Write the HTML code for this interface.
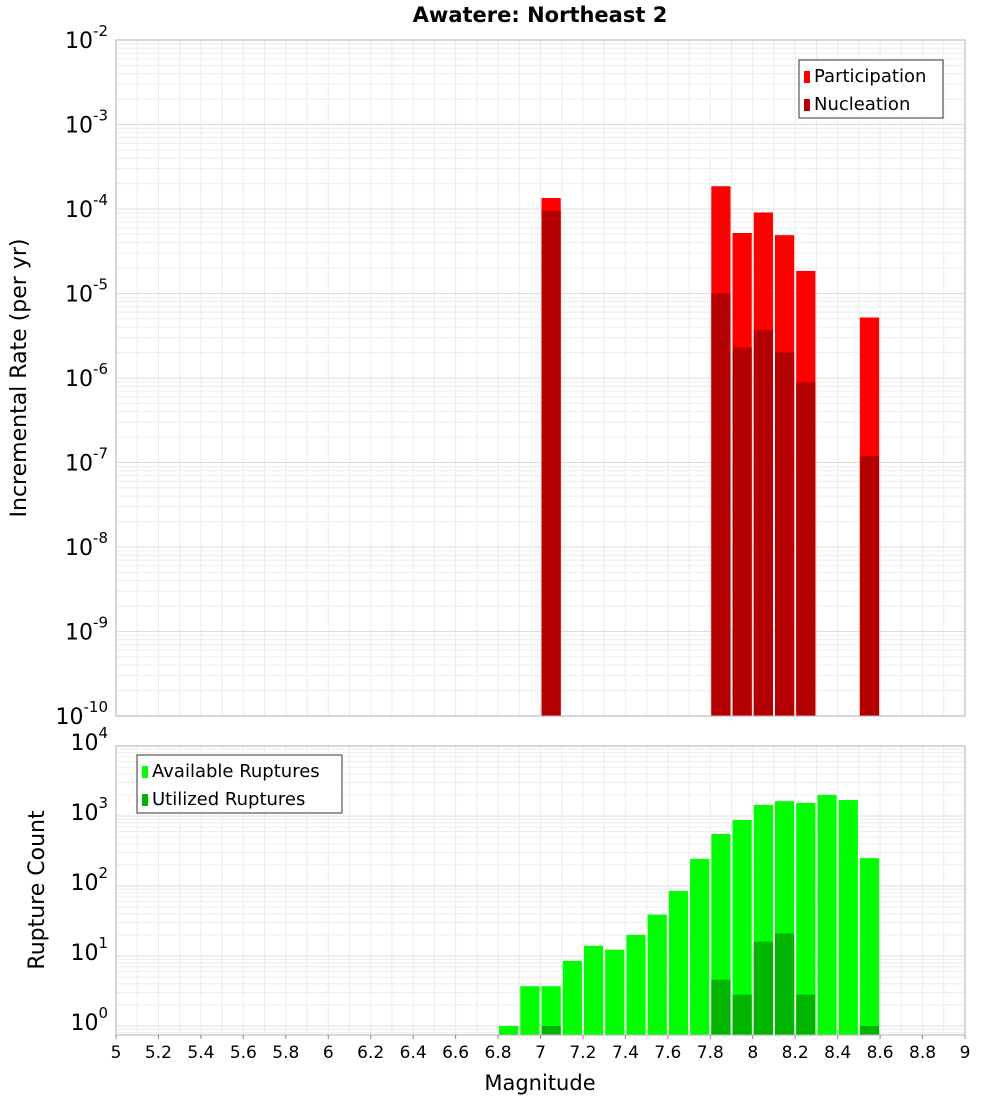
<!DOCTYPE html>
<html><head><meta charset="utf-8"><style>
body{margin:0;background:#fff;font-family:"Liberation Sans","DejaVu Sans",sans-serif}
svg text{font-family:"DejaVu Sans","Liberation Sans",sans-serif}
</style></head><body>
<svg id="c" width="1000" height="1100" xmlns="http://www.w3.org/2000/svg"></svg>
<script>
const partMags=[7.05,7.85,7.95,8.05,8.15,8.25,8.55];
const partVals=[1.35e-4,1.86e-4,5.2e-5,9.1e-5,4.9e-5,1.85e-5,5.2e-6];
const nucVals=[9.5e-5,1.0e-5,2.3e-6,3.7e-6,2.0e-6,8.9e-7,1.2e-7];
const availMags=[6.85,6.95,7.05,7.15,7.25,7.35,7.45,7.55,7.65,7.75,7.85,7.95,8.05,8.15,8.25,8.35,8.45,8.55];
const availVals=[1,3.7,3.7,8.5,14,12.3,20,39,85,244,554,875,1440,1630,1540,2000,1690,250];
const usedMags=[7.05,7.85,7.95,8.05,8.15,8.25,8.55];
const usedVals=[1,4.6,2.8,16,21,2.8,1];
const xTicks=[5,5.2,5.4,5.6,5.8,6,6.2,6.4,6.6,6.8,7,7.2,7.4,7.6,7.8,8,8.2,8.4,8.6,8.8,9];
const topExp=[-10,-9,-8,-7,-6,-5,-4,-3,-2];
const botExp=[0,1,2,3,4];

const S=document.getElementById('c'),NS='http://www.w3.org/2000/svg';
function el(t,a,p){const e=document.createElementNS(NS,t);for(const k in a)e.setAttribute(k,a[k]);(p||S).appendChild(e);return e;}
const X0=116,X1=965;
const x=m=>X0+(m-5)/4*(X1-X0);
const T0=40,T1=716,yT=v=>T0+(-2-Math.log10(v))*(T1-T0)/8;
const B0=746,B1=1035,yB=v=>B0+(4-Math.log10(v))*70;

function grid(top,bot,yf,emin,emax,name){
  const g=el('g',{});
  for(let m=5;m<=9.001;m+=0.1){el('line',{x1:x(m),x2:x(m),y1:top,y2:bot,stroke:'#ebebeb','stroke-width':1},g);}
  for(let e=emin-1;e<=emax;e++)for(let k=1;k<10;k++){const y=yf(k*Math.pow(10,e));if(y<top||y>bot)continue;
    el('line',{x1:X0,x2:X1,y1:y,y2:y,stroke:k==1?'#dcdcdc':'#ececec','stroke-width':1},g);}
}
grid(T0,T1,yT,-10,-2,'top-grid');
grid(B0,B1,yB,0,4,'bottom-grid');

function bars(mags,vals,yf,base,color,name){
  mags.forEach((m,i)=>{const y=yf(vals[i]);const r=el('rect',{x:x(m-0.05)+1,y:y,width:x(m+0.05)-x(m-0.05)-2,height:base-y,fill:color});
    });
}
bars(partMags,partVals,yT,T1,'#ff0000','participation-bar');
bars(partMags,nucVals,yT,T1,'#b40000','nucleation-bar');
bars(availMags,availVals,yB,B1,'#00ff00','available-bar');
bars(usedMags,usedVals,yB,B1,'#00b400','utilized-bar');

el('rect',{x:X0,y:T0,width:X1-X0,height:T1-T0,fill:'none',stroke:'#b0b0b0'});
el('rect',{x:X0,y:B0,width:X1-X0,height:B1-B0,fill:'none',stroke:'#b0b0b0'});

function txt(s,a,name){const t=el('text',a);t.textContent=s;return t;}
function pow(e,y,name){const t=el('text',{x:108,y:y+8,'text-anchor':'end','font-size':22});
  
  const a=el('tspan',{},t);a.textContent='10';const b=el('tspan',{dy:-12,'font-size':15},t);b.textContent=String(e);}
topExp.forEach(e=>pow(e,yT(Math.pow(10,e)),'top-y-tick'));
botExp.forEach(e=>pow(e,yB(Math.pow(10,e))-4,'bottom-y-tick'));
xTicks.forEach(m=>{el('line',{x1:x(m),x2:x(m),y1:B1,y2:B1+4,stroke:'#888'});txt(String(m),{x:x(m),y:1058,'text-anchor':'middle','font-size':17},'x-tick');});

txt('Awatere: Northeast 2',{x:540,y:22,'text-anchor':'middle','font-size':21,'font-weight':'bold'},'chart-title');
txt('Magnitude',{x:540,y:1090,'text-anchor':'middle','font-size':21},'x-axis-title');
txt('Incremental Rate (per yr)',{x:26,y:378,'text-anchor':'middle','font-size':22,transform:'rotate(-90 26 378)'},'top-y-axis-title');
txt('Rupture Count',{x:44,y:890,'text-anchor':'middle','font-size':22,transform:'rotate(-90 44 890)'},'bottom-y-axis-title');

function legend(x0,y0,w,items,name){const g=el('g',{});
  el('rect',{x:x0,y:y0,width:w,height:58,fill:'#fff',stroke:'#333'},g);
  items.forEach((it,i)=>{el('rect',{x:x0+5,y:y0+11+i*28,width:6,height:12,fill:it[1]},g);
    const t=el('text',{x:x0+15,y:y0+22+i*28,'font-size':18},g);t.textContent=it[0];});}
legend(799,60,144,[['Participation','#ff0000'],['Nucleation','#b40000']],'top-legend');
legend(137,755,205,[['Available Ruptures','#00ff00'],['Utilized Ruptures','#00b400']],'bottom-legend');
</script>
</body></html>
